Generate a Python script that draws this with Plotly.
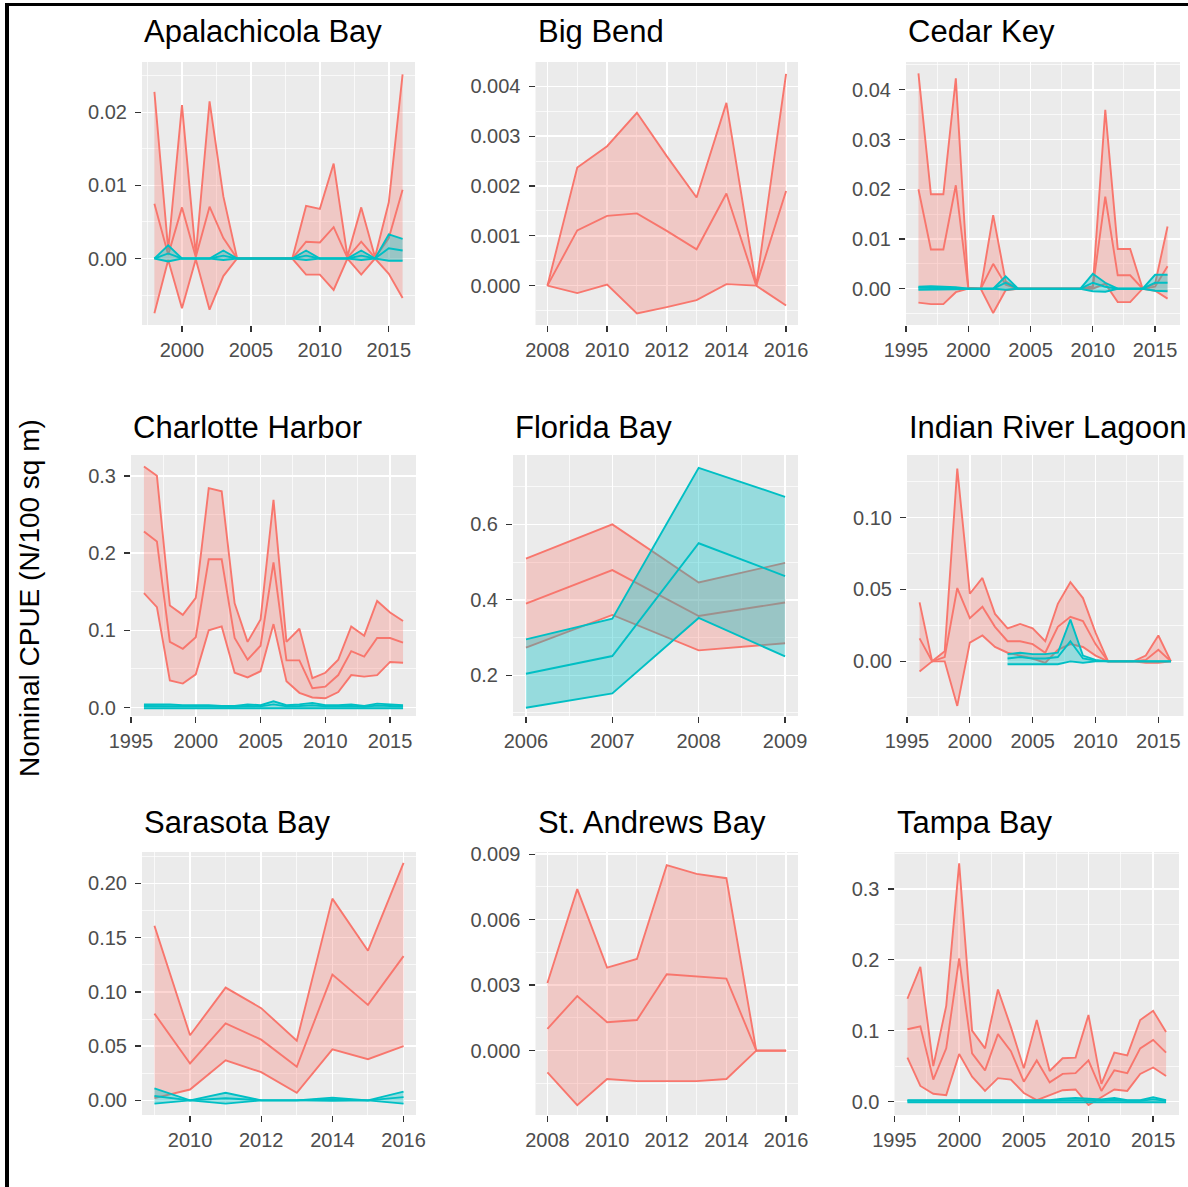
import plotly.graph_objects as go

W, H = 1188, 1187
RED = '#F8766D'
CYAN = '#00BFC4'
RED_FILL = 'rgba(248,118,109,0.30)'
CYAN_FILL = 'rgba(0,191,196,0.36)'
FONT = 'Liberation Sans, Arial, sans-serif'

# ---------------- data ----------------
apa_years = list(range(1998, 2017))
apa_r_up = [0.0228, 0.0012, 0.0210, 0.0005, 0.0215, 0.0085, 0, 0, 0, 0, 0, 0.0072, 0.0068, 0.0130, 0.0003, 0.0070, 0.0002, 0.0077, 0.0252]
apa_r_mean = [0.0075, 0.0005, 0.0070, 0.0002, 0.0071, 0.0028, 0, 0, 0, 0, 0, 0.0023, 0.0022, 0.0043, 0.0001, 0.0023, 0.0001, 0.0028, 0.0094]
apa_r_low = [-0.0075, -0.0002, -0.0068, -0.0001, -0.0070, -0.0024, 0, 0, 0, 0, 0, -0.0022, -0.0022, -0.0043, 0, -0.0022, 0, -0.0021, -0.0054]
apa_c_up = [0, 0.0018, 0, 0, 0, 0.0011, 0, 0, 0, 0, 0, 0.0011, 0, 0, 0, 0.0011, 0, 0.0033, 0.0027]
apa_c_mean = [0, 0.0007, 0, 0, 0, 0.0004, 0, 0, 0, 0, 0, 0.0004, 0, 0, 0, 0.0004, 0, 0.0014, 0.0011]
apa_c_low = [0, -0.0004, 0, 0, 0, -0.0002, 0, 0, 0, 0, 0, -0.0002, 0, 0, 0, -0.0002, 0, -0.0003, -0.0003]

bb_years = list(range(2008, 2017))
bb_r_up = [0, 0.00237, 0.0028, 0.00347, 0.0026, 0.00177, 0.00367, 0, 0.00425]
bb_r_mean = [0, 0.00111, 0.0014, 0.00145, 0.0011, 0.00073, 0.00185, 0, 0.0019]
bb_r_low = [0, -0.00015, 0.00002, -0.00056, -0.00043, -0.00029, 0.00003, 0, -0.0004]

ck_years = list(range(1996, 2017))
ck_r_up = [0.0433, 0.0190, 0.0190, 0.0423, 0.0002, 0, 0.0148, 0.0015, 0, 0, 0, 0, 0, 0, 0.0005, 0.0360, 0.0080, 0.0080, 0, 0.0010, 0.0125]
ck_r_mean = [0.0200, 0.0079, 0.0079, 0.0208, 0.0001, 0, 0.0050, 0.0008, 0, 0, 0, 0, 0, 0, 0.0003, 0.0185, 0.0027, 0.0027, 0, 0.0004, 0.0045]
ck_r_low = [-0.0028, -0.0031, -0.0031, -0.0007, 0, 0, -0.0049, -0.0003, 0, 0, 0, 0, 0, 0, 0, 0.0010, -0.0027, -0.0027, 0, -0.0004, -0.0020]
ck_c_up = [0.0004, 0.0005, 0.0004, 0.0003, 0, 0, 0, 0.0025, 0, 0, 0, 0, 0, 0, 0.0030, 0.0012, 0, 0, 0, 0.0028, 0.0028]
ck_c_mean = [0.0002, 0.0002, 0.0002, 0.0001, 0, 0, 0, 0.0012, 0, 0, 0, 0, 0, 0, 0.0012, 0.0004, 0, 0, 0, 0.0012, 0.0012]
ck_c_low = [-0.0002, -0.0002, -0.0002, -0.0001, 0, 0, 0, -0.0002, 0, 0, 0, 0, 0, 0, -0.0005, -0.0006, 0, 0, 0, -0.0004, -0.0005]

ch_years = list(range(1996, 2017))
ch_r_up = [0.312, 0.300, 0.132, 0.120, 0.142, 0.284, 0.280, 0.135, 0.085, 0.114, 0.269, 0.085, 0.102, 0.038, 0.045, 0.062, 0.105, 0.093, 0.138, 0.123, 0.112]
ch_r_mean = [0.228, 0.215, 0.085, 0.076, 0.091, 0.192, 0.192, 0.090, 0.062, 0.080, 0.188, 0.061, 0.061, 0.025, 0.027, 0.042, 0.073, 0.066, 0.090, 0.090, 0.084]
ch_r_low = [0.148, 0.130, 0.035, 0.031, 0.043, 0.100, 0.105, 0.045, 0.039, 0.047, 0.108, 0.034, 0.019, 0.013, 0.012, 0.020, 0.042, 0.040, 0.042, 0.059, 0.058]
ch_c_up = [0.004, 0.004, 0.004, 0.003, 0.003, 0.003, 0.002, 0.002, 0.004, 0.003, 0.008, 0.003, 0.004, 0.006, 0.003, 0.003, 0.004, 0.002, 0.005, 0.004, 0.003]
ch_c_mean = [0.002, 0.002, 0.002, 0.0015, 0.0015, 0.0015, 0.001, 0.001, 0.002, 0.0015, 0.004, 0.0015, 0.002, 0.003, 0.0015, 0.0015, 0.002, 0.001, 0.0025, 0.002, 0.0015]
ch_c_low = [-0.001, -0.001, -0.001, -0.001, -0.001, -0.001, -0.001, -0.001, -0.001, -0.001, -0.001, -0.001, -0.001, -0.001, -0.001, -0.001, -0.001, -0.001, -0.001, -0.001, -0.001]

fb_years = [2006, 2007, 2008, 2009]
fb_r_up = [0.509, 0.600, 0.446, 0.498]
fb_r_mean = [0.390, 0.479, 0.357, 0.393]
fb_r_low = [0.273, 0.360, 0.266, 0.285]
fb_c_up = [0.295, 0.350, 0.750, 0.673]
fb_c_mean = [0.204, 0.251, 0.550, 0.463]
fb_c_low = [0.114, 0.152, 0.352, 0.250]

irl_years = list(range(1996, 2017))
irl_r_up = [0.041, 0.000, 0.007, 0.134, 0.047, 0.058, 0.033, 0.023, 0.026, 0.023, 0.014, 0.040, 0.055, 0.044, 0.020, 0, 0, 0, 0.004, 0.018, 0]
irl_r_mean = [0.016, 0.000, 0.003, 0.051, 0.030, 0.038, 0.024, 0.014, 0.014, 0.012, 0.006, 0.024, 0.031, 0.028, 0.012, 0, 0, 0, 0.001, 0.008, 0]
irl_r_low = [-0.007, 0.000, 0.000, -0.031, 0.013, 0.018, 0.010, 0.006, 0.004, 0.002, -0.001, 0.008, 0.012, 0.010, 0.004, 0, 0, 0, -0.001, -0.001, 0]
irl_c_years = list(range(2003, 2017))
irl_c_up = [0.005, 0.006, 0.005, 0.005, 0.006, 0.029, 0.004, 0.001, 0, 0, 0, 0, 0, 0]
irl_c_mean = [0.002, 0.003, 0.002, 0.002, 0.003, 0.014, 0.002, 0.0005, 0, 0, 0, 0, 0, 0]
irl_c_low = [-0.002, -0.002, -0.002, -0.002, -0.002, 0.000, -0.001, 0, 0, 0, 0, 0, 0, 0]

sb_years = list(range(2009, 2017))
sb_r_up = [0.161, 0.060, 0.104, 0.085, 0.055, 0.186, 0.138, 0.219]
sb_r_mean = [0.080, 0.034, 0.071, 0.056, 0.031, 0.116, 0.088, 0.133]
sb_r_low = [0.002, 0.010, 0.037, 0.026, 0.007, 0.047, 0.038, 0.050]
sb_c_up = [0.011, 0.000, 0.007, 0.000, 0.000, 0.0025, 0.000, 0.008]
sb_c_mean = [0.004, 0.000, 0.002, 0, 0, 0.001, 0, 0.003]
sb_c_low = [-0.003, 0.000, -0.003, 0, 0, -0.0005, 0, -0.003]

sa_years = list(range(2008, 2017))
sa_r_up = [0.0031, 0.0074, 0.0038, 0.0042, 0.0085, 0.0081, 0.0079, 0, 0]
sa_r_mean = [0.0010, 0.0025, 0.0013, 0.0014, 0.0035, 0.0034, 0.0033, 0, 0]
sa_r_low = [-0.0010, -0.0025, -0.0013, -0.0014, -0.0014, -0.0014, -0.0013, 0, 0]

tb_years = list(range(1996, 2017))
tb_r_up = [0.145, 0.190, 0.050, 0.135, 0.336, 0.100, 0.075, 0.158, 0.105, 0.047, 0.115, 0.043, 0.061, 0.062, 0.122, 0.025, 0.069, 0.065, 0.115, 0.128, 0.098]
tb_r_mean = [0.102, 0.106, 0.031, 0.075, 0.202, 0.068, 0.044, 0.095, 0.071, 0.028, 0.058, 0.027, 0.039, 0.040, 0.058, 0.015, 0.044, 0.040, 0.075, 0.087, 0.069]
tb_r_low = [0.062, 0.022, 0.011, 0.009, 0.067, 0.035, 0.015, 0.033, 0.031, 0.012, 0.002, 0.009, 0.016, 0.017, -0.005, 0.006, 0.017, 0.015, 0.039, 0.048, 0.036]
tb_c_up = [0.002, 0.002, 0.001, 0.001, 0.001, 0.001, 0.001, 0.001, 0.001, 0.001, 0.001, 0.002, 0.004, 0.005, 0.004, 0.003, 0.005, 0.002, 0.002, 0.006, 0.002]
tb_c_mean = [0.001, 0.001, 0.0005, 0.0005, 0.0005, 0.0005, 0.0005, 0.0005, 0.0005, 0.0005, 0.0005, 0.001, 0.002, 0.0025, 0.002, 0.0015, 0.0025, 0.001, 0.001, 0.003, 0.001]
tb_c_low = [-0.001, -0.001, -0.001, -0.001, -0.001, -0.001, -0.001, -0.001, -0.001, -0.001, -0.001, -0.001, -0.001, -0.001, -0.001, -0.001, -0.001, -0.001, -0.001, -0.001, -0.001]

titles = ['Apalachicola Bay', 'Big Bend', 'Cedar Key', 'Charlotte Harbor', 'Florida Bay',
          'Indian River Lagoon', 'Sarasota Bay', 'St. Andrews Bay', 'Tampa Bay']
y_title = 'Nominal CPUE (N/100 sq m)'

# ---------------- panel layout (pixel boxes, axis settings) ----------------
panels = [
    dict(red=(apa_years, apa_r_up, apa_r_mean, apa_r_low), cyan=(apa_years, apa_c_up, apa_c_mean, apa_c_low),
         box=(142, 415, 62, 325), xr=(1997.1, 2016.9), x0=2000, dx=5, yr=(-0.0091, 0.0269), dy=0.01, fmt='.2f', ty=31),
    dict(red=(bb_years, bb_r_up, bb_r_mean, bb_r_low), cyan=None,
         box=(535.5, 798, 62, 325), xr=(2007.6, 2016.4), x0=2008, dx=2, yr=(-0.00079, 0.00449), dy=0.001, fmt='.3f', ty=31),
    dict(red=(ck_years, ck_r_up, ck_r_mean, ck_r_low), cyan=(ck_years, ck_c_up, ck_c_mean, ck_c_low),
         box=(906, 1180, 62, 325), xr=(1995, 2017), x0=1995, dx=5, yr=(-0.0073, 0.0456), dy=0.01, fmt='.2f', ty=31),
    dict(red=(ch_years, ch_r_up, ch_r_mean, ch_r_low), cyan=(ch_years, ch_c_up, ch_c_mean, ch_c_low),
         box=(131, 416, 455, 716), xr=(1995, 2017), x0=1995, dx=5, yr=(-0.011, 0.327), dy=0.1, fmt='.1f', ty=427),
    dict(red=(fb_years, fb_r_up, fb_r_mean, fb_r_low), cyan=(fb_years, fb_c_up, fb_c_mean, fb_c_low),
         box=(513, 798, 455, 716), xr=(2005.85, 2009.15), x0=2006, dx=1, yr=(0.092, 0.784), dy=0.2, fmt='.1f', ty=427),
    dict(red=(irl_years, irl_r_up, irl_r_mean, irl_r_low), cyan=(irl_c_years, irl_c_up, irl_c_mean, irl_c_low),
         box=(907, 1183.5, 455, 716), xr=(1995, 2017), x0=1995, dx=5, yr=(-0.038, 0.1435), dy=0.05, fmt='.2f', ty=427),
    dict(red=(sb_years, sb_r_up, sb_r_mean, sb_r_low), cyan=(sb_years, sb_c_up, sb_c_mean, sb_c_low),
         box=(142, 416, 852, 1115), xr=(2008.65, 2016.35), x0=2010, dx=2, yr=(-0.0135, 0.229), dy=0.05, fmt='.2f', ty=822),
    dict(red=(sa_years, sa_r_up, sa_r_mean, sa_r_low), cyan=None,
         box=(535.5, 798, 852, 1115), xr=(2007.6, 2016.4), x0=2008, dx=2, yr=(-0.00295, 0.0091), dy=0.003, fmt='.3f', ty=822),
    dict(red=(tb_years, tb_r_up, tb_r_mean, tb_r_low), cyan=(tb_years, tb_c_up, tb_c_mean, tb_c_low),
         box=(894.5, 1179, 852, 1115), xr=(1995, 2017), x0=1995, dx=5, yr=(-0.019, 0.352), dy=0.1, fmt='.1f', ty=822),
]

fig = go.Figure()
annotations = []


def add_group(series, color, fill, xa, ya):
    xs, up, mean, low = series
    fig.add_trace(go.Scatter(x=list(xs) + list(xs)[::-1], y=list(up) + list(low)[::-1],
                             fill='toself', fillcolor=fill, mode='lines', line=dict(width=0, color=fill),
                             hoverinfo='skip', showlegend=False, xaxis=xa, yaxis=ya))
    for ys in (up, mean, low):
        fig.add_trace(go.Scatter(x=xs, y=ys, mode='lines', line=dict(color=color, width=1.9),
                                 showlegend=False, xaxis=xa, yaxis=ya))


layout_axes = {}
for i, p in enumerate(panels):
    n = '' if i == 0 else str(i + 1)
    xa, ya = 'x' + n, 'y' + n
    add_group(p['red'], RED, RED_FILL, xa, ya)
    if p['cyan'] is not None:
        add_group(p['cyan'], CYAN, CYAN_FILL, xa, ya)
    l, r, t, b = p['box']
    common = dict(showgrid=True, gridcolor='white', gridwidth=1.5, zeroline=False, showline=False,
                  automargin=False,
                  ticks='outside', ticklen=6, tickwidth=1.3, tickcolor='#333333',
                  tickfont=dict(family=FONT, size=20, color='#4D4D4D'), tickmode='linear')
    layout_axes['xaxis' + n] = dict(common, domain=[l / W, r / W], anchor=ya, range=list(p['xr']),
                                    tick0=p['x0'], dtick=p['dx'], ticklabelstandoff=1,
                                    minor=dict(tick0=p['x0'] + p['dx'] / 2, dtick=p['dx'], showgrid=True,
                                               gridcolor='white', gridwidth=0.7))
    layout_axes['yaxis' + n] = dict(common, domain=[1 - b / H, 1 - t / H], anchor=xa, range=list(p['yr']),
                                    tick0=0, dtick=p['dy'], tickformat=p['fmt'], ticklabelstandoff=4,
                                    minor=dict(tick0=p['dy'] / 2, dtick=p['dy'], showgrid=True,
                                               gridcolor='white', gridwidth=0.7))
    annotations.append(dict(text=titles[i], x=l / W, y=1 - p['ty'] / H, xref='paper', yref='paper',
                            xanchor='left', yanchor='middle', showarrow=False,
                            font=dict(family=FONT, size=31, color='black')))

annotations.append(dict(text=y_title, x=30 / W, y=1 - 598 / H, xref='paper', yref='paper',
                        xanchor='center', yanchor='middle', textangle=-90, showarrow=False,
                        font=dict(family=FONT, size=28, color='black')))

shapes = [
    dict(type='line', xref='paper', yref='paper', x0=7 / W, x1=7 / W, y0=0, y1=1 - 3 / H,
         line=dict(color='black', width=4)),
    dict(type='line', xref='paper', yref='paper', x0=5 / W, x1=1, y0=1 - 4.5 / H, y1=1 - 4.5 / H,
         line=dict(color='black', width=3)),
]

fig.update_layout(width=W, height=H, margin=dict(l=0, r=0, t=0, b=0, pad=0, autoexpand=False),
                  plot_bgcolor='#EBEBEB', paper_bgcolor='white', showlegend=False,
                  annotations=annotations, shapes=shapes, **layout_axes)

fig.write_html('out.html', config={'displayModeBar': False, 'staticPlot': True},
               post_script="document.body.style.margin='0';document.body.style.overflow='hidden';")
